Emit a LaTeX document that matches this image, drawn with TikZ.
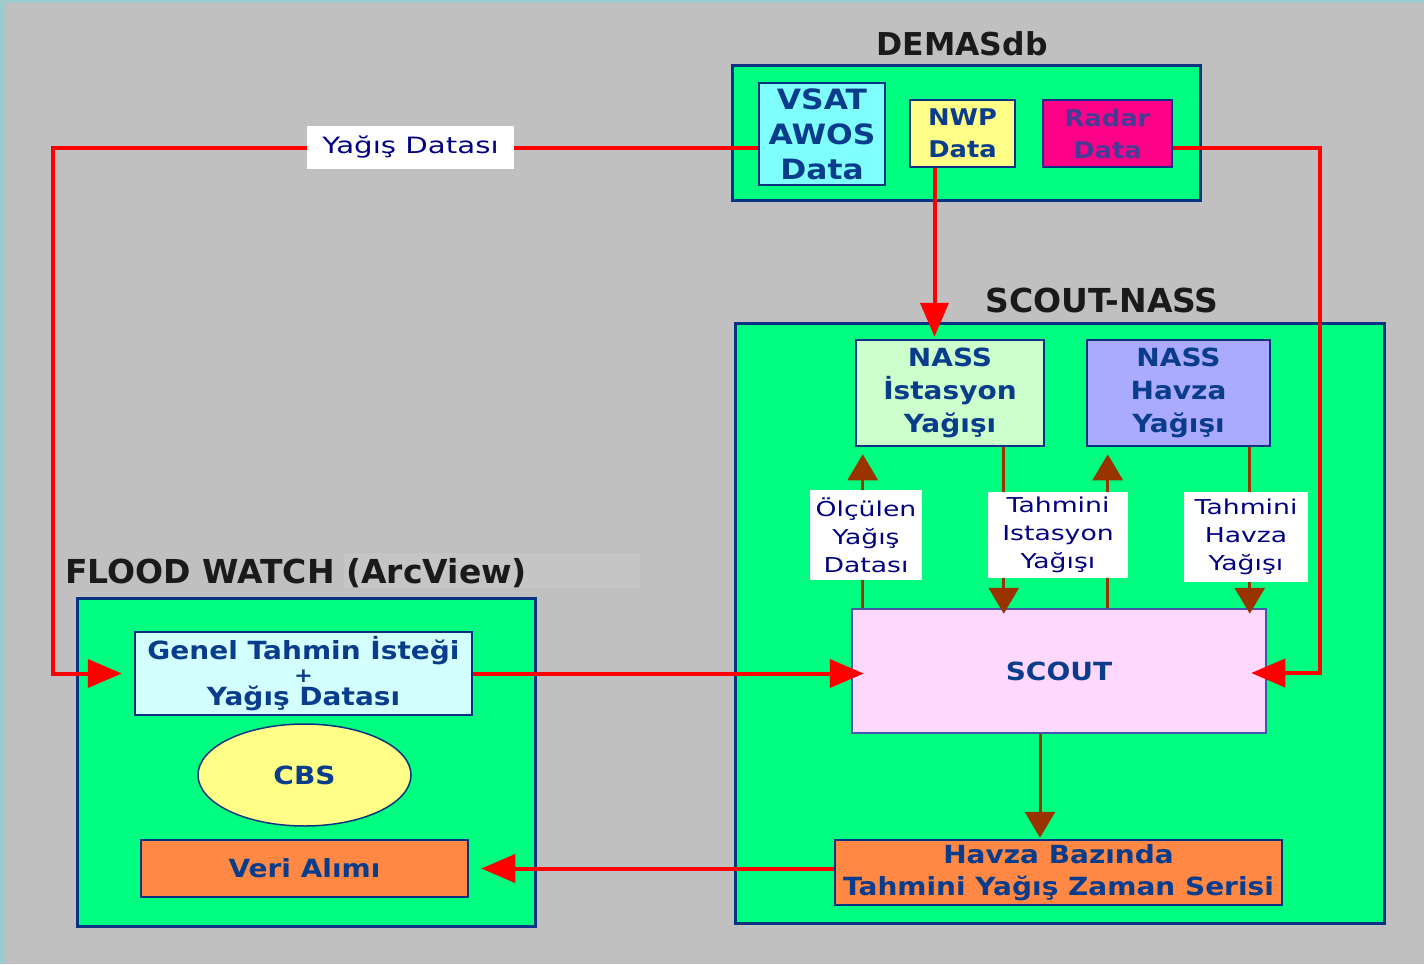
\documentclass[tikz,border=0pt]{standalone}
\usepackage{fontspec}
\usetikzlibrary{arrows.meta,calc,shapes.geometric}

% fonts
\newfontfamily\bxfont{DejaVu Sans}[FakeStretch=1.12]
\newfontfamily\lbfont{DejaVu Sans}[FakeStretch=1.3]
\newfontfamily\ttlfont{DejaVu Sans}

% colours
\definecolor{bggray}{RGB}{192,192,192}
\definecolor{edgeteal}{RGB}{158,204,204}
\definecolor{stripgray}{RGB}{197,197,197}
\definecolor{sysgreen}{RGB}{0,255,128}
\definecolor{navyedge}{RGB}{10,50,130}
\definecolor{boxtext}{RGB}{10,60,140}
\definecolor{lbltext}{RGB}{0,0,128}
\definecolor{ttltext}{RGB}{26,26,26}
\definecolor{vsatfill}{RGB}{128,255,255}
\definecolor{yellowfill}{RGB}{255,255,136}
\definecolor{radarfill}{RGB}{255,0,136}
\definecolor{radartext}{RGB}{70,60,150}
\definecolor{stationfill}{RGB}{204,255,204}
\definecolor{basinfill}{RGB}{170,170,255}
\definecolor{scoutfill}{RGB}{255,216,255}
\definecolor{scoutedge}{RGB}{70,85,170}
\definecolor{requestfill}{RGB}{212,255,255}
\definecolor{orangefill}{RGB}{255,136,68}
\definecolor{flowred}{RGB}{255,0,0}
\definecolor{flowbrown}{RGB}{153,51,0}

\begin{document}
\begin{tikzpicture}[x=1pt,y=-1pt,
  sysframe/.style={draw=navyedge, line width=3pt, fill=sysgreen, inner sep=0pt},
  unitbox/.style={draw=navyedge, line width=2.5pt, inner sep=0pt, align=center,
    text=boxtext, font=\bxfont\bfseries\fontsize{25}{33}\selectfont},
  tagbox/.style={fill=white, inner sep=0pt, align=center, text=lbltext,
    font=\lbfont\fontsize{20.5}{28}\selectfont},
  ttl/.style={inner sep=0pt, text=ttltext, font=\ttlfont\bfseries\fontsize{33}{36}\selectfont},
  redarrow/.style={draw=flowred, line width=4pt, -{Triangle[length=34pt,width=28pt]}},
  brarrow/.style={draw=flowbrown, line width=3pt, -{Triangle[length=26pt,width=30pt]}}
]
% canvas
\useasboundingbox (0,0) rectangle (1424,964);
\fill[bggray] (0,0) rectangle (1424,964);
\fill[edgeteal] (0,0) rectangle (6,964);
\fill[edgeteal] (0,0) rectangle (1424,3);
\fill[stripgray] (344,553) rectangle (640,588);

% titles
\node[ttl, font=\ttlfont\bfseries\fontsize{31.5}{36}\selectfont] (demasttl) at (962,44) {DEMASdb};
\node[ttl] (scoutttl) at (1102,300) {SCOUT-NASS};
\node[ttl, anchor=west] (floodttl) at (65,573) {FLOOD WATCH (ArcView)};

% system frames
\node[sysframe, minimum width=468pt, minimum height=135pt] (demas) at (966,132.5) {};
\node[sysframe, minimum width=649pt, minimum height=600pt] (nassframe) at (1059.5,623) {};
\node[sysframe, minimum width=458pt, minimum height=328pt] (flood) at (306,762) {};

% DEMASdb sources
\node[unitbox, fill=vsatfill, minimum width=126pt, minimum height=102pt,
  font=\bxfont\bfseries\fontsize{28}{35}\selectfont] (vsat) at (822,134) {VSAT\\AWOS\\Data};
\node[unitbox, fill=yellowfill, minimum width=105pt, minimum height=67pt,
  font=\bxfont\bfseries\fontsize{23}{32}\selectfont] (nwp) at (962.5,133.5) {NWP\\Data};
\node[unitbox, fill=radarfill, text=radartext, minimum width=129pt, minimum height=67pt,
  font=\bxfont\bfseries\fontsize{23}{32}\selectfont] (radar) at (1107.5,133.5) {Radar\\Data};

% SCOUT-NASS units
\node[unitbox, fill=stationfill, minimum width=188pt, minimum height=106pt] (nassi) at (950,393) {NASS\\İstasyon\\Yağışı};
\node[unitbox, fill=basinfill, minimum width=183pt, minimum height=106pt] (nassh) at (1178.5,393) {NASS\\Havza\\Yağışı};
\node[unitbox, draw=scoutedge, fill=scoutfill, minimum width=414pt, minimum height=124pt] (scout) at (1059,671) {SCOUT};
\node[unitbox, fill=orangefill, minimum width=447pt, minimum height=65pt,
  font=\bxfont\bfseries\fontsize{25}{32}\selectfont] (havza) at (1058.5,872.5) {Havza Bazında\\Tahmini Yağış Zaman Serisi};

% Flood Watch units
\node[unitbox, fill=requestfill, minimum width=337pt, minimum height=83pt,
  font=\bxfont\bfseries\fontsize{25}{23}\selectfont] (genel) at (303.5,673.5) {Genel Tahmin İsteği\\{\fontsize{20}{23}\selectfont +}\\Yağış Datası};
\node[unitbox, shape=ellipse, line width=1.5pt, fill=yellowfill, minimum width=213pt, minimum height=102pt] (cbs) at (304.5,775) {CBS};
\node[unitbox, fill=orangefill, minimum width=327pt, minimum height=57pt] (veri) at (304.5,868.5) {Veri Alımı};

% rainfall feeds (red)
\coordinate (lc) at (53,673.5);
\draw[redarrow, shorten >=12pt] ([yshift=-14pt]vsat.west) -| (lc) -- (lc -| genel.west);
\coordinate (rc) at (1320,673);
\draw[redarrow, shorten >=-16pt] ([yshift=-14pt]radar.east) -| (rc) -- (rc -| scout.east);
\draw[redarrow, shorten >=-13pt] (genel.east) -- (genel.east -| scout.west);
\coordinate (nwpout) at ([xshift=-28pt]nwp.south);
\draw[redarrow, shorten >=2pt] (nwpout) -- (nwpout |- nassi.north);
\draw[redarrow, shorten >=12pt] (veri.east -| havza.west) -- (veri.east);

% internal SCOUT-NASS exchanges (brown)
\coordinate (b1) at ([xshift=12pt]scout.north west);
\draw[brarrow, shorten >=7pt] (b1) -- (b1 |- nassi.south);
\coordinate (b2) at ([xshift=153pt]scout.north west);
\draw[brarrow, shorten >=-6pt] (b2 |- nassi.south) -- (b2);
\coordinate (b3) at ([xshift=257pt]scout.north west);
\draw[brarrow, shorten >=7pt] (b3) -- (b3 |- nassh.south);
\coordinate (b4) at ([xshift=399pt]scout.north west);
\draw[brarrow, shorten >=-6pt] (b4 |- nassh.south) -- (b4);
\coordinate (b5) at ([xshift=-19pt]scout.south);
\draw[brarrow, shorten >=1pt] (b5) -- (b5 |- havza.north);

% connector labels
\node[tagbox, minimum width=207pt, minimum height=43pt,
  font=\lbfont\fontsize{22.5}{28}\selectfont] (rainlbl) at (410.5,147) {Yağış Datası};
\node[tagbox, minimum width=112pt, minimum height=90pt] (meas) at (866,535) {Ölçülen\\Yağış\\Datası};
\node[tagbox, minimum width=140pt, minimum height=86pt] (fstat) at (1058,535) {Tahmini\\Istasyon\\Yağışı};
\node[tagbox, minimum width=124pt, minimum height=90pt] (fbas) at (1246,537) {Tahmini\\Havza\\Yağışı};
\end{tikzpicture}
\end{document}
